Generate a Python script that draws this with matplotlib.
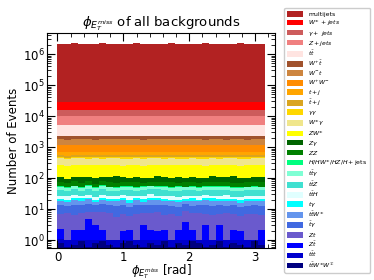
import numpy as np
import matplotlib
matplotlib.use('Agg')
import matplotlib.pyplot as plt
from matplotlib.ticker import AutoMinorLocator

# 30 bins of phi(MET) between 0 and pi
edges = np.linspace(0, np.pi, 31)
centres = 0.5 * (edges[1:] + edges[:-1])

# events per bin, stacked from bottom to top
ttww = [0.8, 0.6, 0.7, 0.9, 0.6, 0.8, 0.9, 0.7, 0.6, 0.8, 0.9, 0.7, 0.6, 0.8, 0.7,
        0.9, 0.6, 0.8, 0.7, 0.9, 0.8, 0.6, 0.7, 0.9, 0.6, 0.8, 0.7, 0.6, 0.9, 0.7]
ttt = [0.3, 0.4, 0.3, 0.1, 0.4, 0.2, 0.1, 0.3, 0.4, 0.2, 0.1, 0.3, 0.4, 0.2, 0.3,
       0.1, 0.4, 0.2, 0.3, 0.1, 0.2, 0.4, 0.3, 0.1, 0.4, 0.2, 0.3, 0.4, 0.1, 0.3]
ztbar = [1.1, 0.0, 1.1, 1.1, 3.9, 2.0, 1.1, 0.0, 0.0, 1.0, 1.1, 0.0, 2.0, 1.1, 1.0,
         1.1, 0.0, 1.1, 2.9, 1.1, 0.0, 2.1, 0.0, 2.0, 0.0, 1.1, 1.0, 0.0, 0.0, 1.1]
zt = [4.8, 6.2, 4.1, 5.5, 3.2, 4.9, 5.8, 6.5, 4.4, 5.1, 3.8, 6.0, 4.6, 5.3, 6.1,
      4.2, 5.7, 3.9, 4.5, 5.2, 6.3, 3.6, 5.5, 4.0, 6.4, 4.7, 3.9, 5.9, 6.1, 4.4]
tbargam = [6.3, 5.5, 7.1, 6.0, 6.8, 5.2, 6.5, 5.9, 7.4, 6.2, 5.6, 6.9, 5.8, 6.4, 5.3,
           7.0, 6.1, 5.7, 6.6, 5.4, 6.2, 7.2, 5.9, 6.5, 5.1, 6.8, 6.0, 5.5, 6.7, 6.3]
ttw = [5.2, 4.1, 6.0, 4.8, 5.5, 3.2, 5.9, 4.4, 5.1, 6.2, 4.6, 5.3, 4.0, 5.7, 6.1,
       4.3, 5.0, 4.7, 3.6, 5.8, 4.2, 5.4, 6.3, 4.9, 5.6, 4.5, 3.3, 5.2, 4.8, 5.5]
tgam = [3.1, 2.5, 3.6, 4.8, 2.9, 3.4, 2.2, 3.8, 3.0, 2.6, 3.5, 2.8, 3.3, 4.1, 2.7,
        3.2, 2.4, 3.7, 2.9, 3.5, 2.3, 3.1, 3.9, 2.6, 3.4, 3.0, 4.5, 2.8, 3.2, 2.7]
tth = [5.5, 6.2, 4.8, 3.9, 5.9, 4.4, 6.6, 5.1, 4.7, 5.8, 6.3, 4.2, 5.4, 6.0, 4.9,
       5.6, 6.4, 4.5, 5.2, 3.7, 6.1, 5.0, 4.6, 5.7, 6.5, 4.3, 5.3, 5.9, 4.8, 5.5]
ttz = [14.2, 13.1, 15.4, 12.6, 14.8, 13.7, 15.9, 12.9, 14.1, 13.5, 15.2, 12.4, 14.6, 13.3, 15.7,
       13.9, 12.8, 14.9, 13.6, 15.1, 12.7, 14.4, 13.2, 15.5, 14.0, 12.5, 14.7, 13.8, 15.3, 13.4]
ttgam = [10.3, 9.6, 11.0, 9.9, 10.7, 9.4, 10.5, 11.2, 9.8, 10.1, 10.9, 9.5, 10.4, 11.1, 9.7,
         10.6, 9.3, 10.8, 10.0, 11.3, 9.6, 10.2, 10.9, 9.4, 10.5, 11.0, 9.8, 10.3, 9.5, 10.7]
higgs = [2.4, 3.1, 2.8, 2.2, 3.4, 2.6, 3.0, 2.5, 3.3, 2.9, 2.3, 3.2, 2.7, 3.5, 2.4,
         3.0, 2.6, 3.3, 2.8, 2.2, 3.1, 2.7, 3.4, 2.5, 2.9, 3.2, 2.3, 2.8, 3.0, 2.6]
zz = [19.5, 17.2, 21.8, 18.4, 20.6, 16.9, 19.9, 22.3, 17.8, 20.1, 18.7, 21.2, 16.5, 19.3, 20.8,
      18.1, 21.6, 17.5, 19.7, 20.4, 16.8, 18.9, 21.4, 17.9, 20.2, 19.1, 17.3, 21.0, 18.6, 20.5]
zgam = [38.0, 27.5, 33.1, 41.2, 30.4, 36.7, 29.8, 35.5, 42.3, 31.6, 28.4, 37.9, 33.5, 26.8, 39.6,
        34.2, 30.9, 40.1, 29.1, 36.3, 32.7, 25.9, 38.8, 35.1, 29.6, 41.7, 31.2, 27.3, 37.4, 33.8]
zw = [156, 149, 152, 158, 147, 154, 150, 157, 151, 148, 155, 153, 146, 158, 152,
      149, 156, 150, 154, 147, 157, 151, 153, 148, 155, 150, 152, 156, 149, 154]
wgam = [170, 166, 172, 168, 165, 171, 169, 173, 167, 170, 164, 172, 168, 171, 166,
        173, 169, 165, 170, 172, 167, 169, 171, 166, 173, 168, 170, 164, 172, 169]
gamgam = [44, 46, 43, 45, 42, 44, 47, 43, 45, 44, 42, 46, 44, 43, 45,
          47, 42, 44, 46, 43, 45, 44, 42, 46, 43, 45, 44, 47, 43, 44]
tbarj = [76, 74, 78, 75, 77, 73, 76, 79, 74, 77, 75, 76, 78, 73, 76,
         77, 74, 75, 78, 76, 73, 77, 75, 74, 79, 76, 75, 77, 74, 76]
tj = [153, 150, 156, 152, 155, 149, 154, 157, 151, 153, 156, 150, 152, 155, 148,
      154, 151, 157, 153, 150, 155, 152, 149, 156, 153, 151, 154, 157, 150, 153]
ww = [455, 462, 448, 459, 451, 466, 453, 447, 460, 456, 449, 463, 452, 458, 446,
      461, 454, 450, 464, 457, 448, 459, 453, 462, 447, 455, 460, 451, 458, 454]
wmt = [610, 598, 622, 605, 615, 590, 612, 625, 601, 608, 618, 596, 611, 604, 620,
       593, 609, 616, 600, 613, 623, 597, 607, 614, 602, 619, 606, 595, 611, 617]
wptbar = [490, 505, 478, 495, 486, 510, 482, 498, 474, 492, 507, 484, 500, 488, 512,
          480, 496, 489, 503, 476, 494, 508, 485, 499, 491, 479, 504, 487, 497, 493]
ttbar = [2850, 2820, 2880, 2840, 2870, 2810, 2860, 2890, 2830, 2850, 2875, 2815, 2845, 2885, 2825,
         2855, 2835, 2870, 2805, 2860, 2880, 2840, 2820, 2865, 2850, 2830, 2875, 2845, 2815, 2860]
zjets = [4900, 4860, 4950, 4880, 4920, 4840, 4970, 4890, 4930, 4870, 4910, 4960, 4850, 4900, 4940,
         4880, 4920, 4860, 4950, 4890, 4930, 4870, 4910, 4850, 4960, 4900, 4880, 4940, 4870, 4920]
gamjets = [5500, 5560, 5450, 5530, 5480, 5600, 5470, 5520, 5580, 5440, 5510, 5570, 5490, 5460, 5540,
           5590, 5480, 5520, 5450, 5560, 5500, 5470, 5610, 5490, 5530, 5460, 5550, 5500, 5480, 5540]
wjets = [12600, 12400, 12500, 12700, 12500, 12300, 12600, 12500, 12400, 12600, 12500, 12700, 12400, 12500, 12600,
         12300, 12500, 12600, 12400, 12500, 12700, 12500, 12400, 12600, 12500, 12300, 12600, 12500, 12400, 12600]
multijets = [2.17e6, 2.16e6, 2.18e6, 2.17e6, 2.16e6, 2.17e6, 2.18e6, 2.17e6, 2.16e6, 2.17e6,
             2.17e6, 2.18e6, 2.16e6, 2.17e6, 2.17e6, 2.16e6, 2.18e6, 2.17e6, 2.17e6, 2.16e6,
             2.17e6, 2.18e6, 2.17e6, 2.16e6, 2.17e6, 2.17e6, 2.18e6, 2.16e6, 2.17e6, 2.17e6]

samples = [ttww, ttt, ztbar, zt, tbargam, ttw, tgam, tth, ttz, ttgam, higgs, zz, zgam, zw,
           wgam, gamgam, tbarj, tj, ww, wmt, wptbar, ttbar, zjets, gamjets, wjets, multijets]
labels = [r'$t\bar{t}W^{\pm}W^{\mp}$', r'$t\bar{t}t$', r'$Z\bar{t}$', r'$Zt$', r'$\bar{t}\gamma$',
          r'$t\bar{t}W^{\pm}$', r'$t\gamma$', r'$t\bar{t}H$', r'$t\bar{t}Z$', r'$t\bar{t}\gamma$',
          r'$H/HW^{\pm}/HZ/H+$jets', r'$ZZ$', r'$Z\gamma$', r'$ZW^{\pm}$', r'$W^{\pm}\gamma$',
          r'$\gamma\gamma$', r'$\bar{t}+j$', r'$t+j$', r'$W^{+}W^{-}$', r'$W^{-}t$', r'$W^{+}\bar{t}$',
          r'$t\bar{t}$', r'$Z+jets$', r'$\gamma+$ $jets$', r'$W^{\pm}$ + $jets$', 'multijets']
colours = ['navy', 'mediumblue', 'blue', 'slateblue', 'royalblue', 'cornflowerblue', 'cyan',
           'lightcyan', 'turquoise', 'aquamarine', 'springgreen', 'green', 'darkgreen', 'yellow',
           'khaki', 'gold', 'goldenrod', 'orange', 'darkorange', 'peru', 'sienna', 'mistyrose',
           'lightcoral', 'indianred', 'red', 'firebrick']

fig = plt.figure(figsize=(3.74, 2.80), dpi=100)
ax = fig.add_axes([0.126, 0.114, 0.609, 0.768])

ax.hist([centres] * len(samples), bins=edges, weights=samples, stacked=True,
        histtype='stepfilled', color=colours, label=labels, log=True, linewidth=0)

ax.set_ylim(0.55, 4.8e6)
ax.xaxis.set_minor_locator(AutoMinorLocator(5))
ax.tick_params(which='both', direction='in', top=True, right=True, labelsize=8.5)
ax.tick_params(which='major', length=6, pad=2)
ax.tick_params(which='minor', length=3)
ax.set_title(r'$\phi_{E_T^{miss}}$ of all backgrounds', fontsize=9.5, pad=4)
ax.set_xlabel(r'$\phi_{E_T^{miss}}$ [rad]', fontsize=8.5, labelpad=-1)
ax.set_ylabel('Number of Events', fontsize=8.5, labelpad=2)

# multijets on top of the legend, as in the stack
handles, labs = ax.get_legend_handles_labels()
order = [labs.index(l) for l in labels[::-1]]
fig.legend([handles[i] for i in order], [labs[i] for i in order], loc='upper left',
           bbox_to_anchor=(0.752, 0.982), fontsize=4.4, labelspacing=0.16,
           handlelength=2.6, handleheight=1.0, borderpad=0.5, framealpha=1,
           edgecolor='#cccccc', fancybox=True)

fig.savefig('out.png', dpi=100)
